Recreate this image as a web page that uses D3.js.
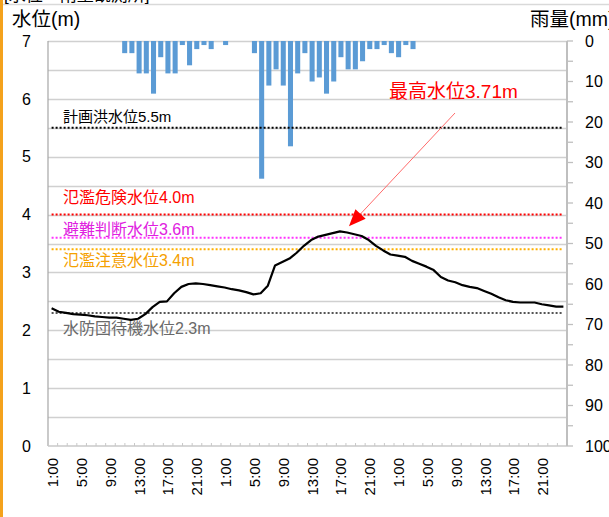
<!DOCTYPE html>
<html>
<head>
<meta charset="UTF-8">
<title>水位・雨量</title>
<script src="https://cdn.jsdelivr.net/npm/d3@7/dist/d3.min.js"></script>
<style>
body { margin: 0; background: #fff; }
svg text { font-family: "Liberation Sans", "Noto Sans CJK JP", sans-serif; }
.grid line { stroke: #d0d0d0; stroke-width: 1.3px; }
.ref { stroke-width: 2px; stroke-dasharray: 2,2; fill: none; }
.level { fill: none; stroke: #000; stroke-width: 2.2px; stroke-linejoin: round; }
</style>
</head>
<body>
<svg width="609" height="517"></svg>
<script>
// hourly categories, 3 days
var hours = d3.range(72).map(function(i) { return (i % 24 + 1) + ":00"; });
var tickLabels = ["1:00","5:00","9:00","13:00","17:00","21:00",
                  "1:00","5:00","9:00","13:00","17:00","21:00",
                  "1:00","5:00","9:00","13:00","17:00","21:00"];

// 水位 (m)
var level = [2.38,2.32,2.30,2.28,2.27,2.26,2.24,2.23,2.22,2.22,2.20,2.18,
             2.20,2.28,2.40,2.49,2.50,2.64,2.75,2.80,2.81,2.80,2.78,2.76,
             2.74,2.71,2.69,2.66,2.62,2.64,2.77,3.12,3.18,3.24,3.34,3.46,
             3.56,3.62,3.65,3.68,3.71,3.69,3.66,3.63,3.56,3.46,3.38,3.31,
             3.29,3.27,3.20,3.15,3.10,3.04,2.92,2.86,2.83,2.78,2.75,2.73,
             2.68,2.63,2.57,2.52,2.49,2.48,2.48,2.48,2.45,2.43,2.41,2.41];

// 雨量 (mm)
var rain = [0,0,0,0,0,0,0,0,0,0,3,3,
            8,8,13,4,8,8,1,6,2,1,2,0,
            1,0,0,0,3,34,11,7,11,26,8,3,
            10,9,13,10,4,7,7,5,2,2,1,3,
            4,1,2,0,0,0,0,0,0,0,0,0,
            0,0,0,0,0,0,0,0,0,0,0,0];

// 基準水位
var refNames  = ["計画洪水位5.5m","氾濫危険水位4.0m","避難判断水位3.6m","氾濫注意水位3.4m","水防団待機水位2.3m"];
var refValues = [5.5, 4.0, 3.6, 3.4, 2.3];
var refColors = ["#000000","#ff0000","#ff33ff","#ffb000","#555555"];
var refTextColors = ["#000000","#ff0000","#e020e0","#f5a000","#6a6a6a"];

var svg = d3.select("svg");
var pL = 48, pR = 567, pT = 41, pB = 446;

var x = d3.scaleBand().domain(d3.range(72)).range([pL, pR]);
var xh = d3.scaleLinear().domain([0, 72]).range([pL, pR]);
var y = d3.scaleLinear().domain([0, 7]).range([pB, pT]);
var y2 = d3.scaleLinear().domain([0, 100]).range([pT, pB]);

// left orange stripe and top caption
svg.append("rect").attr("x", 0).attr("y", 0).attr("width", 3).attr("height", 517).attr("fill", "#f4a21c");
svg.append("line").attr("x1", 3).attr("x2", 609).attr("y1", 4.5).attr("y2", 4.5).attr("stroke", "#d9d9d9").attr("stroke-width", 1.5);
svg.append("text").attr("x", 4).attr("y", 1).attr("font-size", 17).text("[水位・雨量観測所]");

// gridlines every 0.5 m
svg.append("g").attr("class", "grid")
  .selectAll("line").data(d3.range(0.5, 7.01, 0.5))
  .enter().append("line")
    .attr("x1", pL).attr("x2", pR)
    .attr("y1", function(d) { return Math.round(y(d)) + 0.5; })
    .attr("y2", function(d) { return Math.round(y(d)) + 0.5; });

// rain bars hanging from the top
var bw = x.bandwidth() * 0.7;
svg.append("g").selectAll("rect").data(rain)
  .enter().append("rect")
    .attr("x", function(d, i) { return x(i) + (x.bandwidth() - bw) / 2 + 1; })
    .attr("y", y2(0))
    .attr("width", bw)
    .attr("height", function(d) { return y2(d) - y2(0); })
    .attr("fill", "#5b9bd5");

// reference lines
var c0 = x(0) + x.bandwidth() / 2, c1 = x(71) + x.bandwidth() / 2;
svg.append("g").selectAll("line").data(refValues)
  .enter().append("line")
    .attr("class", "ref")
    .attr("x1", c0).attr("x2", c1)
    .attr("y1", function(d) { return y(d); })
    .attr("y2", function(d) { return y(d); })
    .attr("stroke", function(d, i) { return refColors[i]; });

var labelDy = [-6, -12, -3, 17, 21];
svg.append("g").selectAll("text").data(refValues)
  .enter().append("text")
    .attr("x", 63)
    .attr("y", function(d, i) { return y(d) + labelDy[i]; })
    .attr("font-size", function(d, i) { return i == 0 ? 15 : 16; })
    .attr("fill", function(d, i) { return refTextColors[i]; })
    .text(function(d, i) { return refNames[i]; });

// water level line
var line = d3.line()
  .x(function(d, i) { return x(i) + x.bandwidth() / 2; })
  .y(function(d) { return y(d); });
svg.append("path").datum(level).attr("class", "level").attr("d", line);

// axes frame
svg.append("line").attr("x1", pL).attr("x2", pL).attr("y1", pT).attr("y2", pB).attr("stroke", "#a6a6a6").attr("stroke-width", 1.2);
svg.append("line").attr("x1", pL).attr("x2", pR).attr("y1", pB).attr("y2", pB).attr("stroke", "#c8c8c8").attr("stroke-width", 1.3);
svg.append("line").attr("x1", pR).attr("x2", pR).attr("y1", pT).attr("y2", pB).attr("stroke", "#bfbfbf").attr("stroke-width", 2);

// bottom small ticks
svg.append("g").selectAll("line").data(d3.range(1, 54).map(function(k) { return k * 72 / 54; }))
  .enter().append("line")
    .attr("x1", function(d) { return xh(d); }).attr("x2", function(d) { return xh(d); })
    .attr("y1", pB - 3).attr("y2", pB)
    .attr("stroke", "#c8c8c8");

// left axis labels
svg.append("g").selectAll("text").data(d3.range(0, 8))
  .enter().append("text")
    .attr("x", 31).attr("y", function(d) { return y(d); }).attr("dy", "0.36em")
    .attr("text-anchor", "end").attr("font-size", 16)
    .text(function(d) { return d; });

// right axis ticks and labels
svg.append("g").selectAll("line").data(d3.range(0, 101, 5))
  .enter().append("line")
    .attr("x1", pR).attr("x2", pR + 6)
    .attr("y1", function(d) { return y2(d); }).attr("y2", function(d) { return y2(d); })
    .attr("stroke", "#bfbfbf").attr("stroke-width", 1.3);
svg.append("g").selectAll("text").data(d3.range(0, 101, 10))
  .enter().append("text")
    .attr("x", 585).attr("y", function(d) { return y2(d); }).attr("dy", "0.36em")
    .attr("font-size", 16)
    .text(function(d) { return d; });

// x labels
svg.append("g").selectAll("text").data(tickLabels)
  .enter().append("text")
    .attr("transform", function(d, i) {
      return "translate(" + (x(i * 4) + x.bandwidth() / 2 + 1) + "," + 458 + ") rotate(-90)";
    })
    .attr("dy", "0.36em").attr("text-anchor", "end").attr("font-size", 15)
    .text(function(d) { return d; });

// axis titles
svg.append("text").attr("x", 12).attr("y", 26).attr("font-size", 19.5).text("水位(m)");
svg.append("text").attr("x", 530).attr("y", 26).attr("font-size", 19.5).text("雨量(mm)");

// peak annotation
var peakI = level.indexOf(d3.max(level));
var tipX = x(peakI) + x.bandwidth() / 2 + 9, tipY = y(level[peakI]) - 5;
var fromX = 455, fromY = 113;
var ang = Math.atan2(tipY - fromY, tipX - fromX);
var hl = 17, hw = 7;
var bx = tipX - hl * Math.cos(ang), by = tipY - hl * Math.sin(ang);
svg.append("line").attr("x1", fromX).attr("y1", fromY).attr("x2", bx).attr("y2", by)
  .attr("stroke", "#ff6b6b").attr("stroke-width", 1);
svg.append("polygon")
  .attr("points", [[tipX, tipY],
    [bx + hw * Math.sin(ang), by - hw * Math.cos(ang)],
    [bx - hw * Math.sin(ang), by + hw * Math.cos(ang)]].map(function(p) { return p.join(","); }).join(" "))
  .attr("fill", "#ff0000");
svg.append("text").attr("x", 389).attr("y", 98).attr("font-size", 19).attr("fill", "#ff0000")
  .text("最高水位" + d3.max(level) + "m");
</script>
</body>
</html>
